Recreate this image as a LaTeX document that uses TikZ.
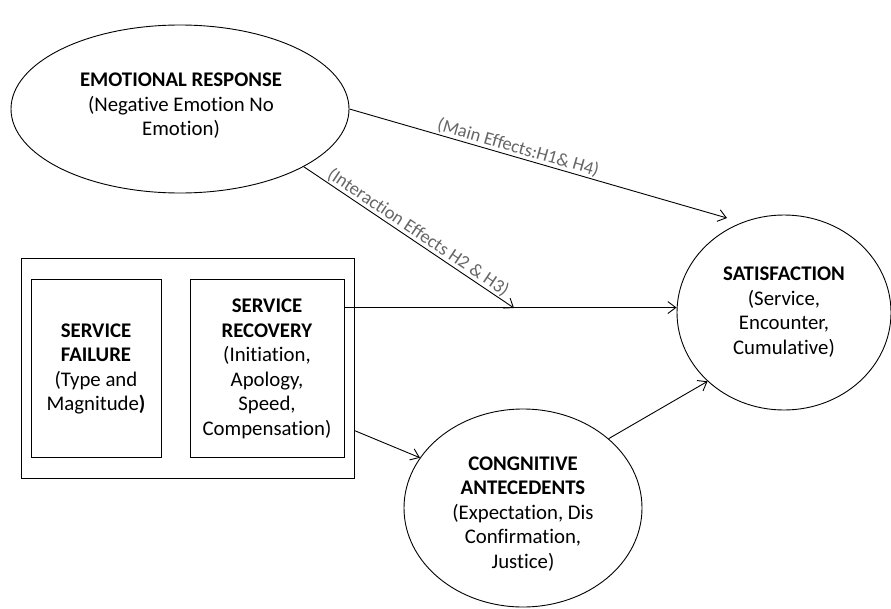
\documentclass[tikz,border=0pt]{standalone}
\usepackage{fontspec}
\setmainfont{Carlito}[Ligatures={NoCommon}]
\usetikzlibrary{shapes.geometric,arrows.meta}
\begin{document}
\begin{tikzpicture}[x=1pt,y=-1pt,
  every node/.style={font=\fontsize{20.8}{24.5}\selectfont},
  oval/.style={draw,ellipse,inner sep=0pt,line width=0.9pt},
  boxed/.style={draw,rectangle,inner sep=0pt,line width=0.9pt},
  txt/.style={align=center,inner sep=0pt},
  arr/.style={line width=0.9pt,-{Straight Barb[length=8pt,width=12pt,line width=0.9pt]}},
  lbl/.style={font=\fontsize{18.5}{20}\selectfont,text=black!60,inner sep=1pt}]
\useasboundingbox (0,0) rectangle (891,608);

% emotional response
\node[oval,minimum width=338pt,minimum height=168pt] (er) at (180,109) {};
\node[txt] (ert) at (181,106) {\textbf{EMOTIONAL RESPONSE}\\(Negative Emotion No\\Emotion)};

% service failure / recovery group
\node[boxed,minimum width=333pt,minimum height=220pt] (grp) at (187.5,368) {};
\node[boxed,minimum width=130pt,minimum height=178pt] (sf) at (96,368) {};
\node[txt] (sft) at (96,369) {\textbf{SERVICE}\\\textbf{FAILURE}\\(Type and\\Magnitude\textbf{)}};
\node[boxed,minimum width=154pt,minimum height=178pt] (sr) at (267,368) {};
\node[txt] (srt) at (267,369) {\textbf{SERVICE}\\\textbf{RECOVERY}\\(Initiation,\\Apology,\\Speed,\\Compensation)};

% satisfaction
\node[oval,minimum width=214pt,minimum height=195pt] (sat) at (784,312.5) {};
\node[txt] (satt) at (784,312) {\textbf{SATISFACTION}\\(Service,\\Encounter,\\Cumulative)};

% cognitive antecedents
\node[oval,minimum width=238pt,minimum height=198pt] (ca) at (523,508) {};
\node[txt] (cat) at (523,514) {\textbf{CONGNITIVE}\\\textbf{ANTECEDENTS}\\(Expectation, Dis\\Confirmation,\\Justice)};

% connector ends
\coordinate (mainEnd) at (727,218);
\coordinate (ixEnd) at (514,308);

% connectors
\draw[arr] (er.east) -- (mainEnd)
  node[pos=0.44,sloped,above,lbl] (mainlbl) {(Main Effects:H1\& H4)};
\draw[arr] (er.-25.4) -- (ixEnd)
  node[pos=0.52,sloped,above,lbl] (ixlbl) {(Interaction Effects H2 \& H3)};
\draw[arr] ([yshift=-29pt]sr.north east) coordinate (hstart) -- (hstart -| sat.west);
\draw[arr] ([yshift=-173pt]grp.north east) -- (ca.154);
\draw[arr] (ca.39) -- (sat.222.4);
\end{tikzpicture}
\end{document}
